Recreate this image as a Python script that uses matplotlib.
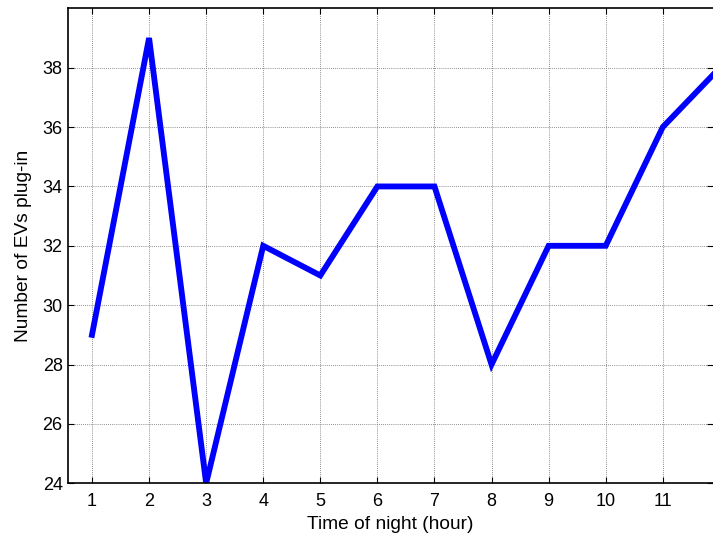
import matplotlib
matplotlib.use('Agg')
import matplotlib.pyplot as plt

# Data
hours = [1, 2, 3, 4, 5, 6, 7, 8, 9, 10, 11, 12]
ev_plugins = [29, 39, 24, 32, 31, 34, 34, 28, 32, 32, 36, 38]
x_ticks = [1, 2, 3, 4, 5, 6, 7, 8, 9, 10, 11]
y_ticks = [24, 26, 28, 30, 32, 34, 36, 38]

plt.rcParams['font.family'] = ['Liberation Sans', 'DejaVu Sans']

fig = plt.figure(figsize=(7.13, 5.38), dpi=100)
# axes runs off the right edge of the figure, like the cropped original
ax = fig.add_axes([0.0958, 0.1017, 0.9042, 0.8828])

ax.plot(hours, ev_plugins, color='#0000ff', linewidth=4.2, solid_joinstyle='miter')

ax.set_xlim(0.585, 11.88)
ax.set_ylim(24, 40)
ax.set_xticks(x_ticks)
ax.set_yticks(y_ticks)

ax.grid(True, color='#6a6a6a', linestyle=(0, (1, 1.5)), linewidth=0.6)
ax.tick_params(direction='in', length=4, width=0.8, labelsize=13,
               top=True, right=True)
ax.tick_params(axis='x', pad=7)
ax.tick_params(axis='y', pad=4)
ax.spines['right'].set_visible(False)
for s in ['left', 'bottom', 'top']:
    ax.spines[s].set_linewidth(1.2)

ax.set_xlabel('Time of night (hour)', fontsize=13.8, labelpad=4)
ax.set_ylabel('Number of EVs plug-in', fontsize=13.8, labelpad=8)

fig.savefig('out.png', dpi=100)
